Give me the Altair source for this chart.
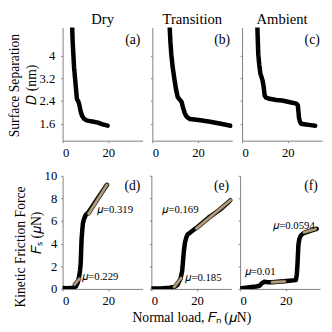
import altair as alt
import pandas as pd

FONT = "Liberation Serif"
TAN = "#b39c7c"
AXC = "#808080"

titles = ["Dry", "Transition", "Ambient"]
row_titles = ["Surface Separation", "Kinetic Friction Force"]
letters_top = ["(a)", "(b)", "(c)"]
letters_bot = ["(d)", "(e)", "(f)"]

a_F = [4.2, 4.4, 4.7, 5.0, 5.5, 6.0, 6.25, 6.8, 7.2, 7.6, 7.9, 8.5, 9.3, 10.5, 11.4, 13.0, 15.5, 17.5, 19.7]
a_D = [5.0, 4.5, 4.05, 3.6, 3.15, 2.7, 2.48, 2.40, 2.31, 2.15, 2.03, 1.88, 1.78, 1.72, 1.70, 1.68, 1.64, 1.58, 1.53]
b_F = [7.6, 7.9, 8.3, 8.9, 9.7, 10.4, 11.1, 12.0, 12.8, 13.5, 14.2, 15.0, 15.6, 16.5, 18.3, 21.0, 25.3, 30.0, 34.3]
b_D = [5.0, 4.5, 4.05, 3.6, 3.15, 2.8, 2.54, 2.45, 2.37, 2.15, 1.97, 1.85, 1.81, 1.77, 1.75, 1.72, 1.67, 1.60, 1.53]
c_F = [6.7, 6.9, 7.1, 7.5, 8.0, 8.9, 9.4, 9.9, 10.5, 12.0, 15.0, 17.5, 20.5, 23.75, 24.4, 24.7, 24.9, 25.3, 25.8, 28.0, 30.0, 32.0]
c_D = [5.0, 4.5, 4.05, 3.7, 3.38, 3.15, 2.93, 2.59, 2.52, 2.48, 2.44, 2.42, 2.37, 2.31, 2.25, 2.0, 1.81, 1.68, 1.60, 1.57, 1.55, 1.53]

d_F = [0, 2.0, 4.4, 5.8, 6.6, 7.2, 7.6, 7.9, 8.1, 8.3, 8.6, 8.9, 9.4, 10.0, 11.4, 14.0, 17.0, 19.4]
d_S = [0.08, 0.07, 0.1, 0.22, 0.55, 1.07, 1.6, 2.2, 3.3, 4.4, 5.2, 5.8, 6.2, 6.5, 6.8, 7.6, 8.5, 9.2]
e_F = [0, 4.0, 8.0, 10.0, 11.4, 12.8, 13.5, 14.2, 14.7, 15.3, 16.0, 17.0, 19.7, 25.0, 30.0, 34.7]
e_S = [0.05, 0.05, 0.1, 0.17, 0.36, 0.92, 1.62, 3.3, 4.1, 4.56, 4.85, 4.98, 5.4, 6.3, 7.0, 7.84]
f_F = [0, 2.5, 5.0, 7.0, 8.5, 9.5, 10.6, 12.0, 14.0, 16.5, 18.9, 21.5, 24.4, 24.8, 25.1, 25.5, 25.9, 26.5, 27.5, 28.6, 31.0, 33.5]
f_S = [0.03, 0.1, 0.17, 0.22, 0.28, 0.5, 0.64, 0.6, 0.59, 0.63, 0.67, 0.72, 0.78, 1.3, 2.18, 3.87, 4.4, 4.7, 4.9, 4.98, 5.15, 5.32]

d_fits = [(11.4, 19.4, 6.65, 9.2), (5.2, 7.4, 0.4, 0.9)]
e_fits = [(19.7, 34.7, 5.35, 7.85), (10.0, 13.0, 0.17, 0.95)]
f_fits = [(14.0, 19.5, 0.6, 0.66), (28.0, 33.0, 5.0, 5.3)]

d_mu = [("\U0001D707=0.319", 15.0, 7.0), ("\U0001D707=0.229", 8.6, 1.07)]
e_mu = [("\U0001D707=0.169", 4.8, 7.0), ("\U0001D707=0.185", 14.9, 0.92)]
f_mu = [("\U0001D707=0.01", 2.0, 1.49), ("\U0001D707=0.0594", 14.5, 5.6)]

W, H = 82, 116
XDOM = [0, 35]


def panel(F, Y, ydom, yvals, letter, letter_y, yaxis_title, show_ylabels, xtitle,
          lab_pad, fits=None, mus=None, title=None):
    df = pd.DataFrame({"F": F, "Y": Y, "i": list(range(len(F)))})
    xenc = alt.X("F:Q", scale=alt.Scale(domain=XDOM, nice=False),
                 axis=alt.Axis(values=[0, 20], format="d", title=xtitle, grid=False,
                               tickSize=2, labelPadding=4, titlePadding=3))
    yax = dict(values=yvals, format=".1~f", grid=False, tickSize=2,
               labels=show_ylabels, labelPadding=lab_pad, title=yaxis_title,
               titlePadding=1)
    yenc = alt.Y("Y:Q", scale=alt.Scale(domain=ydom, nice=False), axis=alt.Axis(**yax))
    layers = [alt.Chart(df).mark_line(color="black", strokeWidth=4.6, strokeCap="round",
                                      strokeJoin="round", clip=True)
              .encode(x=xenc, y=yenc, order="i:Q")]
    if fits:
        rows = []
        for k, (x0, x1, y0, y1) in enumerate(fits):
            rows.append({"F": x0, "Y": y0, "g": k})
            rows.append({"F": x1, "Y": y1, "g": k})
        fdf = pd.DataFrame(rows)
        layers.append(alt.Chart(fdf).mark_line(color="#3a3026", strokeWidth=4.0, strokeCap="round")
                      .encode(x=xenc, y=yenc, detail="g:N"))
        layers.append(alt.Chart(fdf).mark_line(color=TAN, strokeWidth=2.6, strokeCap="round")
                      .encode(x=xenc, y=yenc, detail="g:N"))
    if mus:
        mdf = pd.DataFrame({"t": [m[0] for m in mus], "F": [m[1] for m in mus],
                            "Y": [m[2] for m in mus]})
        layers.append(alt.Chart(mdf).mark_text(font=FONT, fontSize=11, align="left",
                                               baseline="middle", color="black")
                      .encode(x=xenc, y=yenc, text="t:N"))
    ldf = pd.DataFrame({"t": [letter], "F": [34.0], "Y": [letter_y]})
    layers.append(alt.Chart(ldf).mark_text(font=FONT, fontSize=14, align="right",
                                           baseline="middle", color="black")
                  .encode(x=xenc, y=yenc, text="t:N"))
    ch = alt.layer(*layers).properties(width=W, height=H)
    if title:
        ch = ch.properties(title=alt.TitleParams(title, font=FONT, fontSize=15,
                                                 fontWeight="normal", offset=1, color="black"))
    return ch


TOPV = [1.6, 2.4, 3.2, 4.0]
BOTV = [0, 2, 4, 6, 8, 10]


def row_title(t):
    return alt.TitleParams(t, orient="left", anchor="middle", font=FONT, fontSize=14,
                           fontWeight="normal", color="black", offset=2)


top = alt.hconcat(
    panel(a_F, a_D, [1, 5], TOPV, letters_top[0], 4.55,
          "\U0001D437 (nm)", True, None, 6, title=titles[0]),
    panel(b_F, b_D, [1, 5], TOPV, letters_top[1], 4.55, None, False, None, 6, title=titles[1]),
    panel(c_F, c_D, [1, 5], TOPV, letters_top[2], 4.55, None, False, None, 6, title=titles[2]),
    spacing=7,
).properties(title=row_title(row_titles[0]))
bot = alt.hconcat(
    panel(d_F, d_S, [0, 10], BOTV, letters_bot[0], 9.1,
          "\U0001D439\u209B (\U0001D707N)", True, None, 4,
          fits=d_fits, mus=d_mu),
    panel(e_F, e_S, [0, 10], BOTV, letters_bot[1], 9.1, None, False,
          "Normal load, \U0001D439\u2099 (\U0001D707N)", 4, fits=e_fits, mus=e_mu),
    panel(f_F, f_S, [0, 10], BOTV, letters_bot[2], 9.1, None, False, None, 4,
          fits=f_fits, mus=f_mu),
    spacing=9, bounds="flush",
).properties(title=row_title(row_titles[1]))

chart = alt.vconcat(top, bot, spacing=11).properties(padding=0).configure_view(
    stroke=None
).configure_axis(
    domainColor=AXC, tickColor=AXC, labelFont=FONT, labelFontSize=13,
    labelColor="black", titleFont=FONT, titleFontSize=14, titleFontWeight="normal",
    titleColor="black", domainWidth=1, tickWidth=1,
)

chart.save("out.html", embed_options={"renderer": "svg", "actions": False})
